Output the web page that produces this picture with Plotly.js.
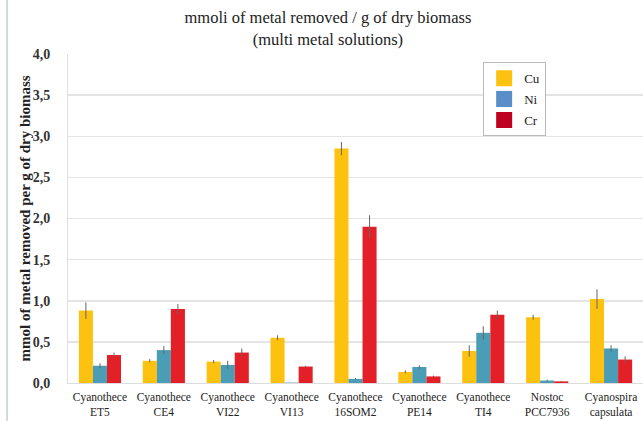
<!DOCTYPE html>
<html>
<head>
<meta charset="utf-8">
<script src="https://cdn.plot.ly/plotly-3.0.1.min.js"></script>
<style>html,body{margin:0;padding:0;background:#fff;}#chart{width:643px;height:421px;}</style>
</head>
<body>
<div id="chart"></div>
<script>
const categories = ["Cyanothece<br>ET5","Cyanothece<br>CE4","Cyanothece<br>VI22","Cyanothece<br>VI13","Cyanothece<br>16SOM2","Cyanothece<br>PE14","Cyanothece<br>TI4","Nostoc<br>PCC7936","Cyanospira<br>capsulata"];
const cuValues = [0.88, 0.27, 0.26, 0.55, 2.85, 0.135, 0.39, 0.80, 1.02];
const cuErrors = [0.10, 0.02, 0.02, 0.03, 0.08, 0.02, 0.07, 0.03, 0.12];
const niValues = [0.21, 0.40, 0.22, 0.005, 0.05, 0.195, 0.61, 0.03, 0.42];
const niErrors = [0.03, 0.05, 0.05, 0.0, 0.01, 0.02, 0.08, 0.01, 0.04];
const crValues = [0.34, 0.90, 0.37, 0.20, 1.90, 0.08, 0.83, 0.02, 0.285];
const crErrors = [0.03, 0.06, 0.05, 0.01, 0.14, 0.01, 0.05, 0.005, 0.04];
const seriesNames = ["Cu", "Ni", "Cr"];
const barColors = ["#FDC210", "#4A9DB4", "#E32027"];
const legendColors = ["#FDC210", "#5B8DC9", "#C00020"];
const yTitle = "mmol of metal removed per g of dry biomass";

const serif = "'Liberation Serif', 'DejaVu Serif', serif";
const vals = [cuValues, niValues, crValues];
const errs = [cuErrors, niErrors, crErrors];

const traces = [];
for (let i = 0; i < 3; i++) {
  traces.push({
    type: "bar", x: categories, y: vals[i], name: seriesNames[i], showlegend: false,
    marker: {color: barColors[i]},
    error_y: {type: "data", array: errs[i], visible: true, color: "#666", thickness: 1, width: 0}
  });
}
for (let i = 0; i < 3; i++) {
  traces.push({
    type: "scatter", mode: "markers", x: [null], y: [null], name: seriesNames[i],
    legendgroup: "g" + i,
    marker: {symbol: "square", size: 16, color: legendColors[i]}
  });
}

const layout = {
  width: 643, height: 421,
  margin: {l: 68, r: 0, t: 54, b: 38},
  paper_bgcolor: "#fff", plot_bgcolor: "#fff",
  barmode: "group", bargap: 0.34, bargroupgap: 0,
  separators: ", ",
  font: {family: serif, color: "#222"},
  title: {
    text: "mmoli of metal removed / g of dry biomass<br>(multi metal solutions)",
    x: 0.51, xref: "container", xanchor: "center",
    y: 0.945, yref: "container", yanchor: "top",
    font: {family: serif, size: 16.5, color: "#222"}
  },
  xaxis: {
    type: "category", range: [-0.5, 8.5],
    showgrid: false, showline: true, linecolor: "#ddd", linewidth: 1,
    tickfont: {family: serif, size: 11.5, color: "#222"},
    ticks: "", ticklabelstandoff: 3
  },
  yaxis: {
    range: [0, 4], dtick: 0.5, tickformat: ".1f",
    showgrid: true, gridcolor: "#e4e4e4", gridwidth: 1.5,
    showline: true, linecolor: "#e0e0e0", zeroline: false,
    tickfont: {family: serif, size: 14, color: "#333", weight: "bold"},
    ticks: "", ticklabelstandoff: 14
  },
  legend: {
    x: 0.722, xanchor: "left", y: 0.975, yanchor: "top",
    bgcolor: "#fff", bordercolor: "#bbb", borderwidth: 1,
    font: {family: serif, size: 13, color: "#222"},
    traceorder: "grouped", tracegroupgap: 1,
    itemwidth: 30
  },
  annotations: [{
    text: yTitle, textangle: -90, showarrow: false,
    xref: "paper", yref: "paper", x: -0.075, y: 0.5, xanchor: "center", yanchor: "middle",
    font: {family: serif, size: 15, color: "#222", weight: "bold"}
  }],
  shapes: [{type: "line", xref: "paper", yref: "paper", x0: -0.106, x1: -0.106, y0: -0.2, y1: 1.2,
    line: {color: "#c5cde0", width: 1.5}}]
};

Plotly.newPlot("chart", traces, layout, {displayModeBar: false, staticPlot: true});
</script>
</body>
</html>
